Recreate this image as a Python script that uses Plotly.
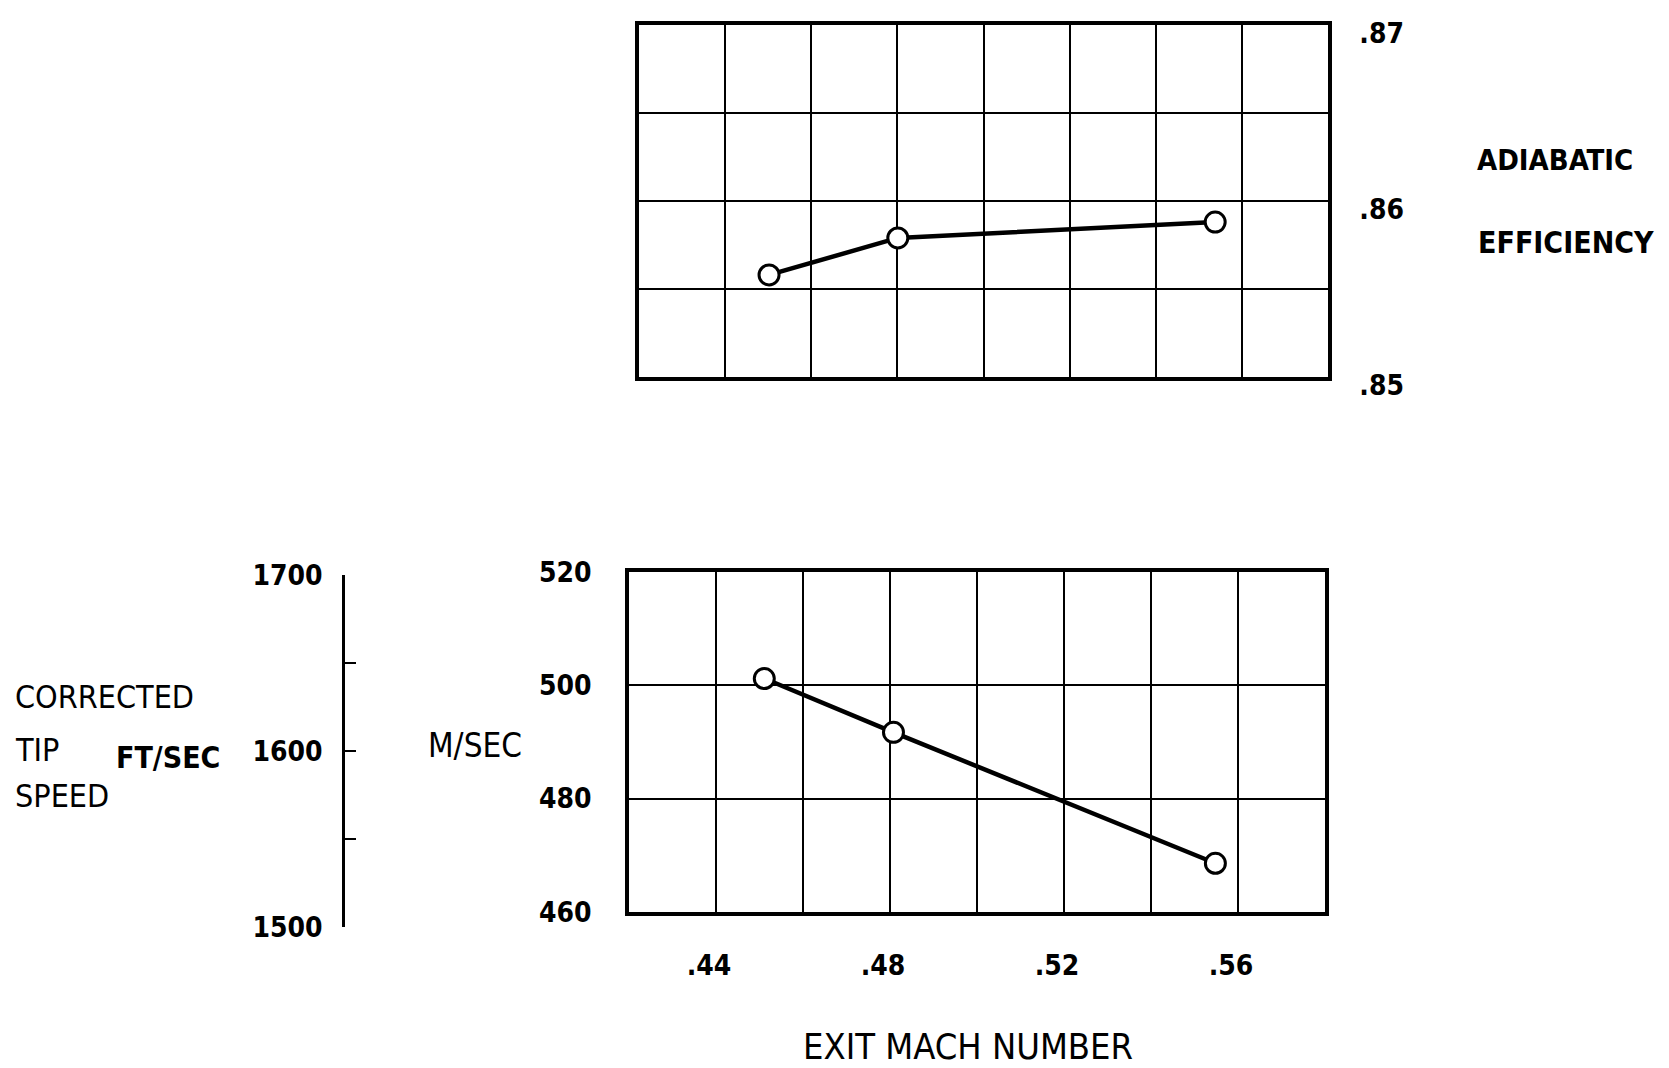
import plotly.graph_objects as go

W, H = 1669, 1068

# ---- data ----
mach_eff = [0.4502, 0.4801, 0.5538]
adiabatic_eff = [0.8558, 0.8579, 0.8588]

mach_speed = [0.4511, 0.4808, 0.5548]
tip_speed_msec = [501.2, 491.7, 468.6]

x_ticks = [0.44, 0.48, 0.52, 0.56]
x_tick_text = [".44", ".48", ".52", ".56"]
eff_ticks = [0.85, 0.86, 0.87]
eff_tick_text = [".85", ".86", ".87"]
msec_ticks = [460, 480, 500, 520]
ftsec_ticks = [1500, 1600, 1700]


def px(x):
    return x / W


def py(y):
    return 1 - y / H


FONT = "DejaVu Sans Condensed, DejaVu Sans, sans-serif"
NUMFONT = dict(family=FONT, size=28, color="black", weight="bold")

x_grid = [round(0.42 + 0.02 * i, 2) for i in range(9)]
x_grid_text = [x_tick_text[x_ticks.index(v)] if v in x_ticks else "" for v in x_grid]
eff_grid = [0.85, 0.855, 0.86, 0.865, 0.87]
eff_grid_text = [eff_tick_text[eff_ticks.index(v)] if v in eff_ticks else "" for v in eff_grid]
ft_grid = [1500, 1550, 1600, 1650, 1700]
ft_grid_text = [str(v) if v in ftsec_ticks else "" for v in ft_grid]

fig = go.Figure()

line_style = dict(color="black", width=4.5)
marker_style = dict(symbol="circle", size=20, color="white", line=dict(color="black", width=3))

fig.add_trace(go.Scatter(x=mach_eff, y=adiabatic_eff, mode="lines+markers",
                         line=line_style, marker=marker_style, xaxis="x", yaxis="y",
                         showlegend=False, hoverinfo="skip"))
fig.add_trace(go.Scatter(x=mach_speed, y=tip_speed_msec, mode="lines+markers",
                         line=line_style, marker=marker_style, xaxis="x2", yaxis="y2",
                         showlegend=False, hoverinfo="skip"))
# carrier for the FT/SEC scale
fig.add_trace(go.Scatter(x=[None], y=[None], mode="markers", xaxis="x3", yaxis="y3",
                         showlegend=False, hoverinfo="skip"))

common_grid = dict(showgrid=True, gridcolor="black", gridwidth=1.8, zeroline=False,
                   showline=True, linecolor="black", linewidth=3.5, mirror=True,
                   automargin=False)

fig.update_layout(
    template="none",
    width=W, height=H,
    margin=dict(l=0, r=0, t=0, b=0, pad=0, autoexpand=False),
    paper_bgcolor="white",
    plot_bgcolor="rgba(0,0,0,0)",
    showlegend=False,
    xaxis=dict(domain=[px(639), px(1328)], anchor="y", range=[0.42, 0.58],
               tickvals=x_grid, showticklabels=False, ticks="", **common_grid),
    yaxis=dict(domain=[py(377), py(25)], anchor="x", side="right", range=[0.85, 0.87],
               tickvals=eff_grid, ticktext=eff_grid_text, ticks="",
               tickfont=NUMFONT, ticklabelstandoff=22, ticklabelshift=8, **common_grid),
    xaxis2=dict(domain=[px(629), px(1325)], anchor="y2", range=[0.42, 0.58],
                tickvals=x_grid, ticktext=x_grid_text, ticks="",
                tickfont=NUMFONT, ticklabelstandoff=26, ticklabelshift=-7, **common_grid),
    yaxis2=dict(domain=[py(912), py(572)], anchor="x2", side="left", range=[460, 520],
                tickvals=msec_ticks, ticks="", tickfont=NUMFONT,
                ticklabelstandoff=28, **common_grid),
    xaxis3=dict(domain=[px(343), px(350)], anchor="y3", visible=False, range=[0, 1],
                automargin=False),
    yaxis3=dict(domain=[py(927), py(575)], anchor="free", position=px(343), side="left",
                range=[1500, 1700], tickvals=ft_grid, ticktext=ft_grid_text,
                ticks="inside", ticklen=11, tickwidth=2.2, tickcolor="black",
                showline=True, linecolor="black", linewidth=2.8, showgrid=False,
                zeroline=False, tickfont=NUMFONT, ticklabelstandoff=14,
                automargin=False),
)


def label(text, x, y, xanchor="left", size=33, bold=False):
    fig.add_annotation(text=text, x=px(x), y=py(y), xref="paper", yref="paper",
                       xanchor=xanchor, yanchor="middle", showarrow=False,
                       font=dict(family=FONT, size=size, color="black",
                                 weight="bold" if bold else "normal"))


label("ADIABATIC", 1555, 160, xanchor="center", size=29, bold=True)
label("EFFICIENCY", 1566, 243, xanchor="center", size=30, bold=True)
label("CORRECTED", 13, 697, size=32)
label("TIP", 13, 750, size=32)
label("SPEED", 13, 796, size=32)
label("FT/SEC", 114, 757, size=30, bold=True)
label("M/SEC", 426, 745, size=33)
label("EXIT MACH NUMBER", 968, 1046, xanchor="center", size=36)

fig.write_html("out.html")
